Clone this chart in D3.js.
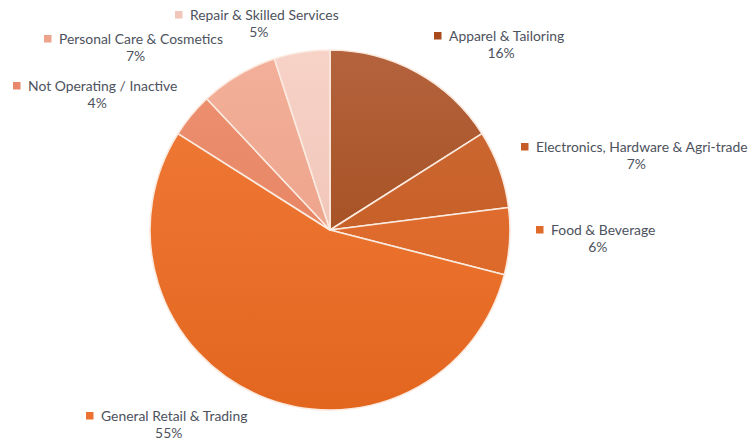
<!DOCTYPE html>
<html>
<head>
<meta charset="utf-8">
<script src="https://cdn.jsdelivr.net/npm/d3@7"></script>
<style>
  html, body { margin: 0; padding: 0; background: #ffffff; }
  svg { display: block; }
  .lbl { font-family: "Lato", "Open Sans", sans-serif; font-size: 13.9px; fill: #4d525d; }
</style>
</head>
<body>
<svg id="chart" width="748" height="440"></svg>
<script>
// Business categories and their share (%), clockwise from 12 o'clock
const categories = [
  "Apparel & Tailoring",
  "Electronics, Hardware & Agri-trade",
  "Food & Beverage",
  "General Retail & Trading",
  "Not Operating / Inactive",
  "Personal Care & Cosmetics",
  "Repair & Skilled Services"
];
const shares = [16, 7, 6, 55, 4, 7, 5];
const shareLabels = ["16%", "7%", "6%", "55%", "4%", "7%", "5%"];

// Fill tones per slice: lighter top, deeper bottom
const topColors    = ["#b4633d", "#cf6c37", "#e4743a", "#f17c3a", "#ee9272", "#f3b09a", "#f7d2c7"];
const bottomColors = ["#9c420f", "#c0531a", "#d8621f", "#e3661f", "#df7a58", "#e8997f", "#edbbad"];
const keyColors    = ["#a84a1c", "#c65c24", "#df6a2a", "#ec7030", "#e8876a", "#eea48c", "#f3c6ba"];

// Legend-label anchor (left edge of the key square, label baseline)
const labelPos = [
  [434, 41], [521, 152], [536, 235], [86, 421], [13, 91], [44, 44], [175, 20]
];

const svg = d3.select("#chart");
const cx = 330, cy = 230, r = 180;

const data = categories.map((c, i) => ({ name: c, value: shares[i], i }));

const pie = d3.pie().value(d => d.value).sort(null);
const arc = d3.arc().innerRadius(0).outerRadius(r);

const defs = svg.append("defs");
data.forEach((d, i) => {
  const g = defs.append("linearGradient")
    .attr("id", "grad" + i)
    .attr("gradientUnits", "userSpaceOnUse")
    .attr("x1", 0).attr("y1", -r).attr("x2", 0).attr("y2", r);
  g.append("stop").attr("offset", "0%").attr("stop-color", topColors[i]);
  g.append("stop").attr("offset", "100%").attr("stop-color", bottomColors[i]);
});

const g = svg.append("g").attr("transform", `translate(${cx},${cy})`);
g.selectAll("path.slice")
  .data(pie(data))
  .join("path")
  .attr("class", "slice")
  .attr("d", arc)
  .attr("fill", d => `url(#grad${d.index})`)
  .attr("stroke", "#fbeadf")
  .attr("stroke-width", 1.6)
  .attr("stroke-linejoin", "round");

// Legend-style data labels: key square + category name, percent centred below
const labels = svg.append("g");
data.forEach((d, i) => {
  const [x, y] = labelPos[i];
  const grp = labels.append("g");
  grp.append("rect")
    .attr("x", x).attr("y", y - 9)
    .attr("width", 7.5).attr("height", 7.5)
    .attr("fill", keyColors[i]);
  const t = grp.append("text")
    .attr("class", "lbl")
    .attr("x", x + 15).attr("y", y)
    .text(d.name);
  const w = t.node().getComputedTextLength();
  grp.append("text")
    .attr("class", "lbl")
    .attr("x", x + (15 + w) / 2 + 2).attr("y", y + 17)
    .attr("text-anchor", "middle")
    .text(shareLabels[i]);
});
</script>
</body>
</html>
